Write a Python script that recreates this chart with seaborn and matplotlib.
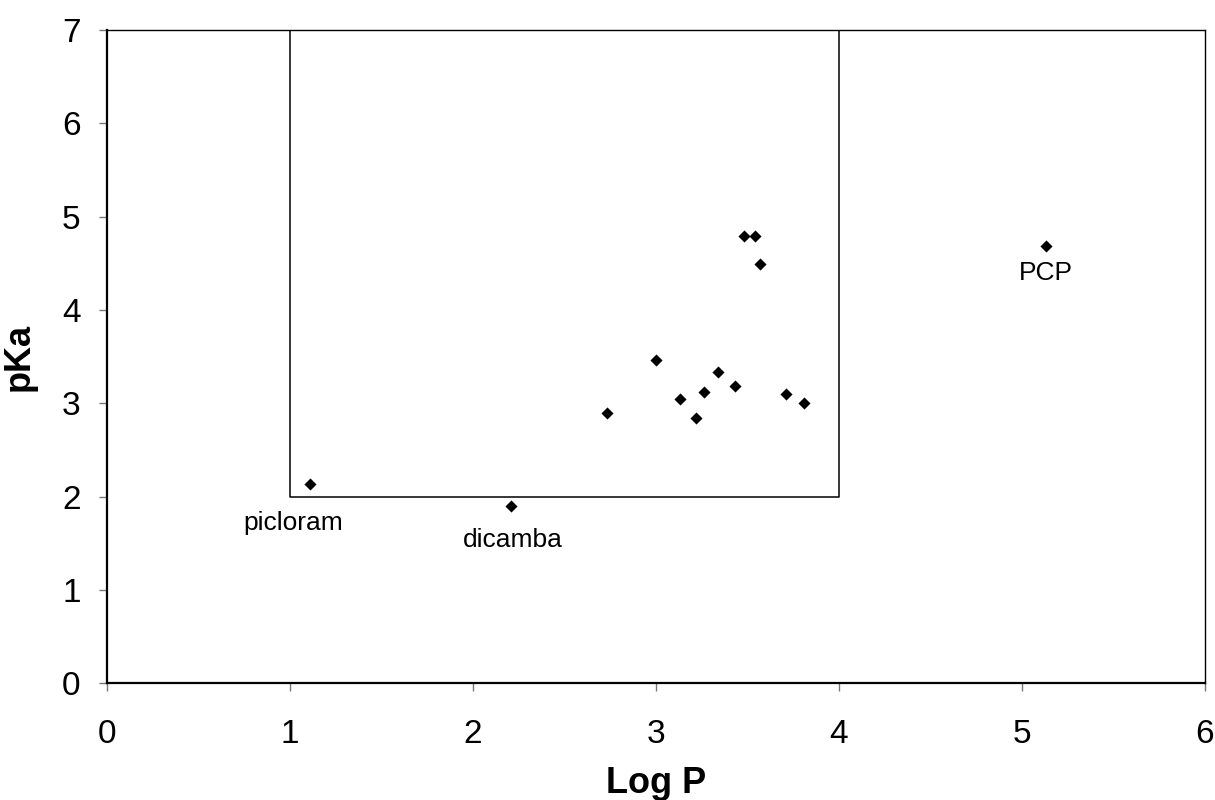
import numpy as np
import pandas as pd
import matplotlib
matplotlib.use("Agg")
import matplotlib.pyplot as plt
import seaborn as sns

# compound data (Log P, pKa)
log_p = [1.11, 2.21, 2.73, 3.00, 3.13, 3.22, 3.26, 3.34, 3.43,
         3.48, 3.54, 3.57, 3.71, 3.81, 5.13]
pka = [2.14, 1.90, 2.90, 3.46, 3.05, 2.84, 3.12, 3.33, 3.18,
       4.79, 4.79, 4.49, 3.10, 3.00, 4.69]

# labelled compounds and where their names sit
label_names = ["picloram", "dicamba", "PCP"]
label_x = [1.02, 2.22, 5.13]
label_y = [1.72, 1.53, 4.40]

# the "window" box (Log P 1-4, pKa 2-7)
box_x = [1, 4]
box_y = [2, 7]

x_ticks = [0, 1, 2, 3, 4, 5, 6]
y_ticks = [0, 1, 2, 3, 4, 5, 6, 7]

sns.set_style("white")
plt.rcParams["font.family"] = ["Liberation Sans", "DejaVu Sans"]
plt.rcParams["text.color"] = "black"
plt.rcParams["axes.labelcolor"] = "black"
plt.rcParams["xtick.color"] = "black"
plt.rcParams["ytick.color"] = "black"

df = pd.DataFrame({"logP": log_p, "pKa": pka})

fig = plt.figure(figsize=(12.15, 8), dpi=100)
ax = fig.add_axes([0.0881, 0.146, 0.9037, 0.8165])

sns.scatterplot(data=df, x="logP", y="pKa", marker="D", s=38,
                color="black", edgecolor="black", linewidth=0, ax=ax)

bx0, bx1 = box_x
by0, by1 = box_y
ax.plot([bx0, bx0, bx1, bx1], [by1, by0, by0, by1], color="black", lw=1.1)

for name, tx, ty in zip(label_names, label_x, label_y):
    ax.text(tx, ty, name, ha="center", va="center", fontsize=19,
            color="black")

ax.set_xlim(0, 6)
ax.set_ylim(0, 7)
ax.set_xticks(x_ticks)
ax.set_yticks(y_ticks)
ax.tick_params(axis="both", direction="out", length=6, width=1,
               color="#777777", labelsize=24, labelcolor="black",
               bottom=True, left=True)
ax.tick_params(axis="x", pad=20)
ax.tick_params(axis="y", pad=13)
for side in ["left", "bottom"]:
    ax.spines[side].set_linewidth(1.6)
    ax.spines[side].set_color("black")
for side in ["top", "right"]:
    ax.spines[side].set_linewidth(1.0)
    ax.spines[side].set_color("black")

ax.set_xlabel("Log P", fontsize=26, fontweight="bold", labelpad=11)
ax.set_ylabel("pKa", fontsize=26, fontweight="bold", labelpad=18)

fig.savefig("out.png", dpi=100)
plt.close(fig)
